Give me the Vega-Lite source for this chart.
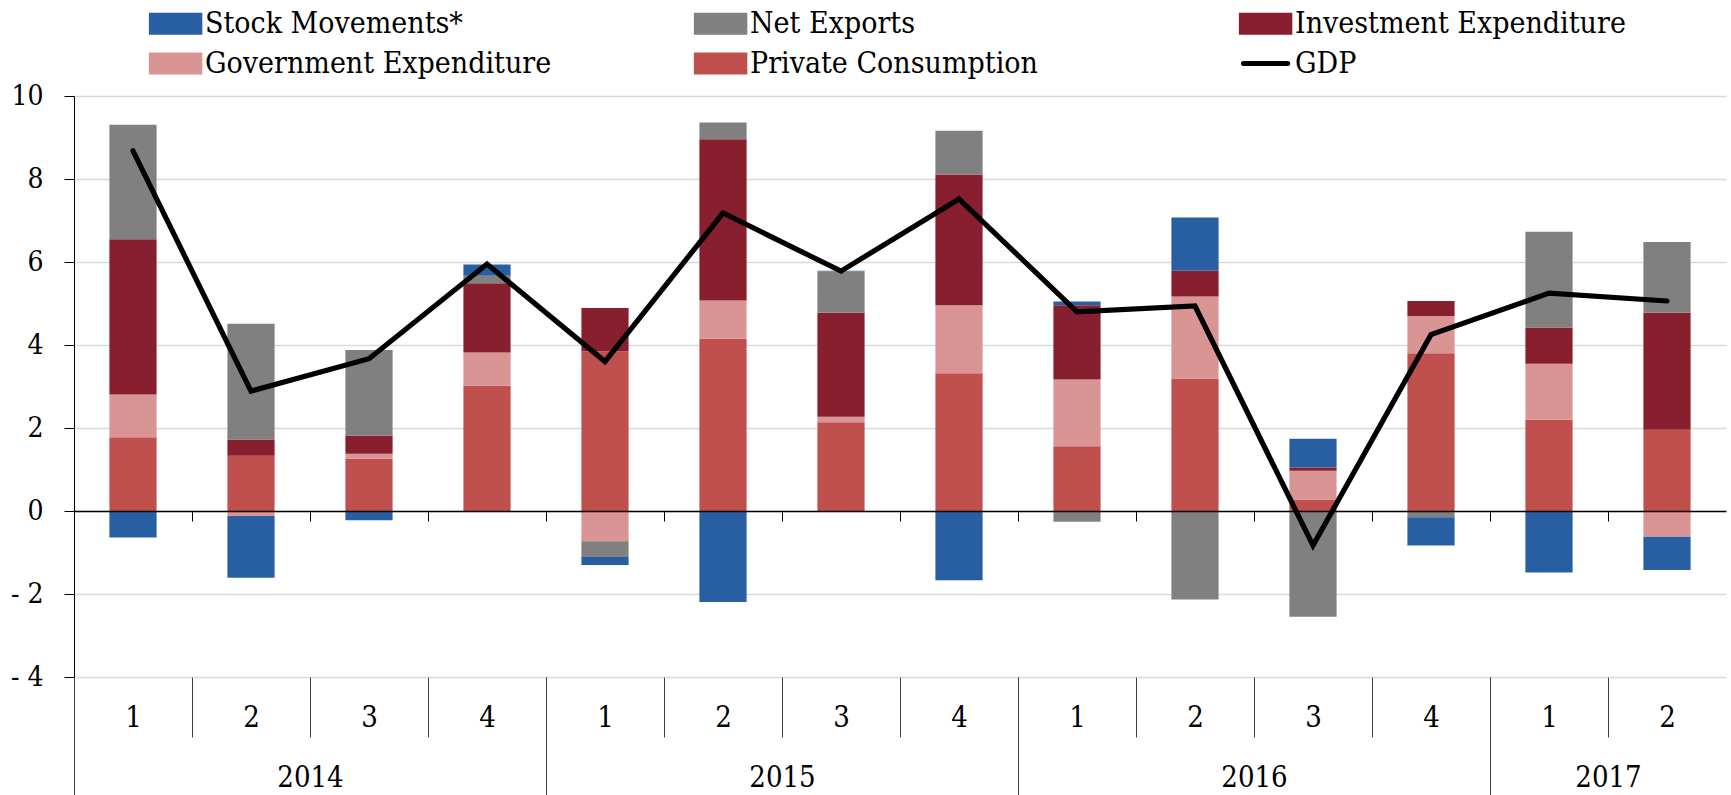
{
  "$schema": "https://vega.github.io/schema/vega-lite/v6.json",
  "autosize": {"type": "none"},
  "padding": {"left": 74, "top": 96, "right": 5, "bottom": 118},
  "width": 1652,
  "height": 581,
  "config": {
    "view": {"stroke": null},
    "font": "'DejaVu Serif Condensed', 'DejaVu Serif', serif"
  },
  "datasets": {
    "contrib": [
      {"period": "2014 Q1", "component": "Private Consumption", "ord": 1, "value": 1.78},
      {"period": "2014 Q1", "component": "Government Expenditure", "ord": 2, "value": 1.03},
      {"period": "2014 Q1", "component": "Investment Expenditure", "ord": 3, "value": 3.74},
      {"period": "2014 Q1", "component": "Net Exports", "ord": 4, "value": 2.76},
      {"period": "2014 Q1", "component": "Stock Movements*", "ord": 5, "value": -0.64},
      {"period": "2014 Q2", "component": "Private Consumption", "ord": 1, "value": 1.33},
      {"period": "2014 Q2", "component": "Government Expenditure", "ord": 2, "value": -0.12},
      {"period": "2014 Q2", "component": "Investment Expenditure", "ord": 3, "value": 0.39},
      {"period": "2014 Q2", "component": "Net Exports", "ord": 4, "value": 2.79},
      {"period": "2014 Q2", "component": "Stock Movements*", "ord": 5, "value": -1.49},
      {"period": "2014 Q3", "component": "Private Consumption", "ord": 1, "value": 1.26},
      {"period": "2014 Q3", "component": "Government Expenditure", "ord": 2, "value": 0.12},
      {"period": "2014 Q3", "component": "Investment Expenditure", "ord": 3, "value": 0.44},
      {"period": "2014 Q3", "component": "Net Exports", "ord": 4, "value": 2.06},
      {"period": "2014 Q3", "component": "Stock Movements*", "ord": 5, "value": -0.22},
      {"period": "2014 Q4", "component": "Private Consumption", "ord": 1, "value": 3.02},
      {"period": "2014 Q4", "component": "Government Expenditure", "ord": 2, "value": 0.80},
      {"period": "2014 Q4", "component": "Investment Expenditure", "ord": 3, "value": 1.67},
      {"period": "2014 Q4", "component": "Net Exports", "ord": 4, "value": 0.18},
      {"period": "2014 Q4", "component": "Stock Movements*", "ord": 5, "value": 0.27},
      {"period": "2015 Q1", "component": "Private Consumption", "ord": 1, "value": 3.85},
      {"period": "2015 Q1", "component": "Government Expenditure", "ord": 2, "value": -0.73},
      {"period": "2015 Q1", "component": "Investment Expenditure", "ord": 3, "value": 1.04},
      {"period": "2015 Q1", "component": "Net Exports", "ord": 4, "value": -0.38},
      {"period": "2015 Q1", "component": "Stock Movements*", "ord": 5, "value": -0.19},
      {"period": "2015 Q2", "component": "Private Consumption", "ord": 1, "value": 4.15},
      {"period": "2015 Q2", "component": "Government Expenditure", "ord": 2, "value": 0.92},
      {"period": "2015 Q2", "component": "Investment Expenditure", "ord": 3, "value": 3.89},
      {"period": "2015 Q2", "component": "Net Exports", "ord": 4, "value": 0.40},
      {"period": "2015 Q2", "component": "Stock Movements*", "ord": 5, "value": -2.19},
      {"period": "2015 Q3", "component": "Private Consumption", "ord": 1, "value": 2.14},
      {"period": "2015 Q3", "component": "Government Expenditure", "ord": 2, "value": 0.13},
      {"period": "2015 Q3", "component": "Investment Expenditure", "ord": 3, "value": 2.51},
      {"period": "2015 Q3", "component": "Net Exports", "ord": 4, "value": 1.00},
      {"period": "2015 Q3", "component": "Stock Movements*", "ord": 5, "value": 0.01},
      {"period": "2015 Q4", "component": "Private Consumption", "ord": 1, "value": 3.32},
      {"period": "2015 Q4", "component": "Government Expenditure", "ord": 2, "value": 1.64},
      {"period": "2015 Q4", "component": "Investment Expenditure", "ord": 3, "value": 3.15},
      {"period": "2015 Q4", "component": "Net Exports", "ord": 4, "value": 1.05},
      {"period": "2015 Q4", "component": "Stock Movements*", "ord": 5, "value": -1.67},
      {"period": "2016 Q1", "component": "Private Consumption", "ord": 1, "value": 1.56},
      {"period": "2016 Q1", "component": "Government Expenditure", "ord": 2, "value": 1.61},
      {"period": "2016 Q1", "component": "Investment Expenditure", "ord": 3, "value": 1.79},
      {"period": "2016 Q1", "component": "Net Exports", "ord": 4, "value": -0.26},
      {"period": "2016 Q1", "component": "Stock Movements*", "ord": 5, "value": 0.09},
      {"period": "2016 Q2", "component": "Private Consumption", "ord": 1, "value": 3.19},
      {"period": "2016 Q2", "component": "Government Expenditure", "ord": 2, "value": 1.98},
      {"period": "2016 Q2", "component": "Investment Expenditure", "ord": 3, "value": 0.62},
      {"period": "2016 Q2", "component": "Net Exports", "ord": 4, "value": -2.13},
      {"period": "2016 Q2", "component": "Stock Movements*", "ord": 5, "value": 1.28},
      {"period": "2016 Q3", "component": "Private Consumption", "ord": 1, "value": 0.28},
      {"period": "2016 Q3", "component": "Government Expenditure", "ord": 2, "value": 0.69},
      {"period": "2016 Q3", "component": "Investment Expenditure", "ord": 3, "value": 0.08},
      {"period": "2016 Q3", "component": "Net Exports", "ord": 4, "value": -2.55},
      {"period": "2016 Q3", "component": "Stock Movements*", "ord": 5, "value": 0.69},
      {"period": "2016 Q4", "component": "Private Consumption", "ord": 1, "value": 3.80},
      {"period": "2016 Q4", "component": "Government Expenditure", "ord": 2, "value": 0.90},
      {"period": "2016 Q4", "component": "Investment Expenditure", "ord": 3, "value": 0.36},
      {"period": "2016 Q4", "component": "Net Exports", "ord": 4, "value": -0.15},
      {"period": "2016 Q4", "component": "Stock Movements*", "ord": 5, "value": -0.68},
      {"period": "2017 Q1", "component": "Private Consumption", "ord": 1, "value": 2.20},
      {"period": "2017 Q1", "component": "Government Expenditure", "ord": 2, "value": 1.35},
      {"period": "2017 Q1", "component": "Investment Expenditure", "ord": 3, "value": 0.87},
      {"period": "2017 Q1", "component": "Net Exports", "ord": 4, "value": 2.31},
      {"period": "2017 Q1", "component": "Stock Movements*", "ord": 5, "value": -1.48},
      {"period": "2017 Q2", "component": "Private Consumption", "ord": 1, "value": 1.96},
      {"period": "2017 Q2", "component": "Government Expenditure", "ord": 2, "value": -0.62},
      {"period": "2017 Q2", "component": "Investment Expenditure", "ord": 3, "value": 2.82},
      {"period": "2017 Q2", "component": "Net Exports", "ord": 4, "value": 1.70},
      {"period": "2017 Q2", "component": "Stock Movements*", "ord": 5, "value": -0.80}
    ],
    "gdp": [
      {"period": "2014 Q1", "gdp": 8.68},
      {"period": "2014 Q2", "gdp": 2.89},
      {"period": "2014 Q3", "gdp": 3.67},
      {"period": "2014 Q4", "gdp": 5.95},
      {"period": "2015 Q1", "gdp": 3.60},
      {"period": "2015 Q2", "gdp": 7.18},
      {"period": "2015 Q3", "gdp": 5.78},
      {"period": "2015 Q4", "gdp": 7.52},
      {"period": "2016 Q1", "gdp": 4.80},
      {"period": "2016 Q2", "gdp": 4.94},
      {"period": "2016 Q3", "gdp": -0.83},
      {"period": "2016 Q4", "gdp": 4.25},
      {"period": "2017 Q1", "gdp": 5.25},
      {"period": "2017 Q2", "gdp": 5.06}
    ]
  },
  "resolve": {"axis": {"x": "independent"}},
  "layer": [
    {
      "data": {"name": "contrib"},
      "mark": {"type": "bar"},
      "encoding": {
        "x": {
          "field": "period", "type": "ordinal",
          "scale": {"type": "band", "paddingInner": 0.6, "paddingOuter": 0.3},
          "axis": {
            "orient": "bottom", "title": null, "labels": false, "grid": false,
            "offset": {"expr": "scale('y', 0) - height"},
            "bandPosition": 0.5, "tickOffset": -59,
            "domain": true, "domainColor": "#000000", "domainWidth": 1.5,
            "ticks": true, "tickSize": 10, "tickColor": "#000000", "tickWidth": 1,
            "zindex": 2
          }
        },
        "y": {
          "field": "value", "type": "quantitative", "stack": "zero",
          "scale": {"domain": [-4, 10], "nice": false, "zero": false},
          "axis": {
            "title": null,
            "values": [-4, -2, 0, 2, 4, 6, 8, 10],
            "domain": true, "domainColor": "#000000", "domainWidth": 1,
            "ticks": true, "tickSize": 10, "tickColor": "#000000", "tickWidth": 1,
            "grid": true, "gridColor": "#d9d9d9", "gridWidth": 1.6,
            "labelFontSize": 28, "labelColor": "#000000", "labelPadding": 21,
            "labelExpr": "datum.value < 0 ? '- ' + abs(datum.value) : '' + datum.value"
          }
        },
        "color": {
          "field": "component", "type": "nominal",
          "scale": {
            "domain": ["Stock Movements*", "Net Exports", "Investment Expenditure", "Government Expenditure", "Private Consumption", "GDP"],
            "range": ["#285FA3", "#808080", "#871F2E", "#D99594", "#C0504D", "#000000"]
          },
          "legend": {
            "title": null,
            "orient": "none", "legendX": 92.5, "legendY": -87.5,
            "direction": "horizontal", "columns": 3, "gridAlign": "all",
            "columnPadding": 134, "rowPadding": 2, "padding": 0,
            "symbolSize": 289, "symbolOffset": -5.9, "labelOffset": 14.4,
            "labelFontSize": 30, "labelColor": "#000000", "labelLimit": 600,
            "encode": {
              "symbols": {
                "update": {
                  "shape": {"signal": "datum.value === 'GDP' ? 'M-2.6,0H2.6' : 'M-2.85,-1H2.85V1H-2.85Z'"},
                  "fill": {"signal": "datum.value === 'GDP' ? 'transparent' : scale('color', datum.value)"},
                  "stroke": {"signal": "datum.value === 'GDP' ? '#000000' : 'transparent'"},
                  "strokeWidth": {"value": 5},
                  "strokeCap": {"value": "round"},
                  "opacity": {"value": 1}
                }
              }
            }
          }
        },
        "order": {"field": "ord", "type": "quantitative"}
      }
    },
    {
      "data": {"name": "gdp"},
      "mark": {"type": "line", "strokeWidth": 5.2, "strokeCap": "round", "strokeJoin": "miter"},
      "encoding": {
        "x": {
          "field": "period", "type": "ordinal",
          "axis": {
            "orient": "bottom", "title": null, "grid": false, "domain": false,
            "bandPosition": 0.5, "tickOffset": -59, "labelOffset": 59,
            "ticks": true, "tickSize": 60, "tickColor": "#404040", "tickWidth": 1,
            "labels": true, "labelAngle": 0, "labelAlign": "center", "labelBaseline": "middle",
            "labelPadding": -19.7, "labelFontSize": 29, "labelColor": "#000000",
            "labelExpr": "slice(datum.value, 6)",
            "zindex": 2
          }
        },
        "y": {"field": "gdp", "type": "quantitative", "axis": {"title": null}},
        "color": {"datum": "GDP"}
      }
    },
    {
      "data": {"name": "gdp"},
      "mark": {"type": "point", "opacity": 0},
      "encoding": {
        "x": {
          "field": "period", "type": "ordinal",
          "axis": {
            "orient": "bottom", "title": null, "grid": false, "domain": false,
            "bandPosition": 0.5, "tickOffset": -59, "labelOffset": 118,
            "ticks": true, "tickSize": 119, "tickColor": "#404040", "tickWidth": 1,
            "tickOpacity": {"condition": {"test": "slice(datum.value, 5) == 'Q1'", "value": 1}, "value": 0},
            "labels": true, "labelAngle": 0, "labelAlign": "center", "labelBaseline": "middle",
            "labelPadding": -18.7, "labelFontSize": 29, "labelColor": "#000000",
            "labelExpr": "(slice(datum.value, 5) == 'Q2' && slice(datum.value, 0, 4) != '2017') || datum.value == '2017 Q1' ? slice(datum.value, 0, 4) : ''",
            "zindex": 2
          }
        },
        "y": {"field": "gdp", "type": "quantitative"}
      }
    }
  ]
}
